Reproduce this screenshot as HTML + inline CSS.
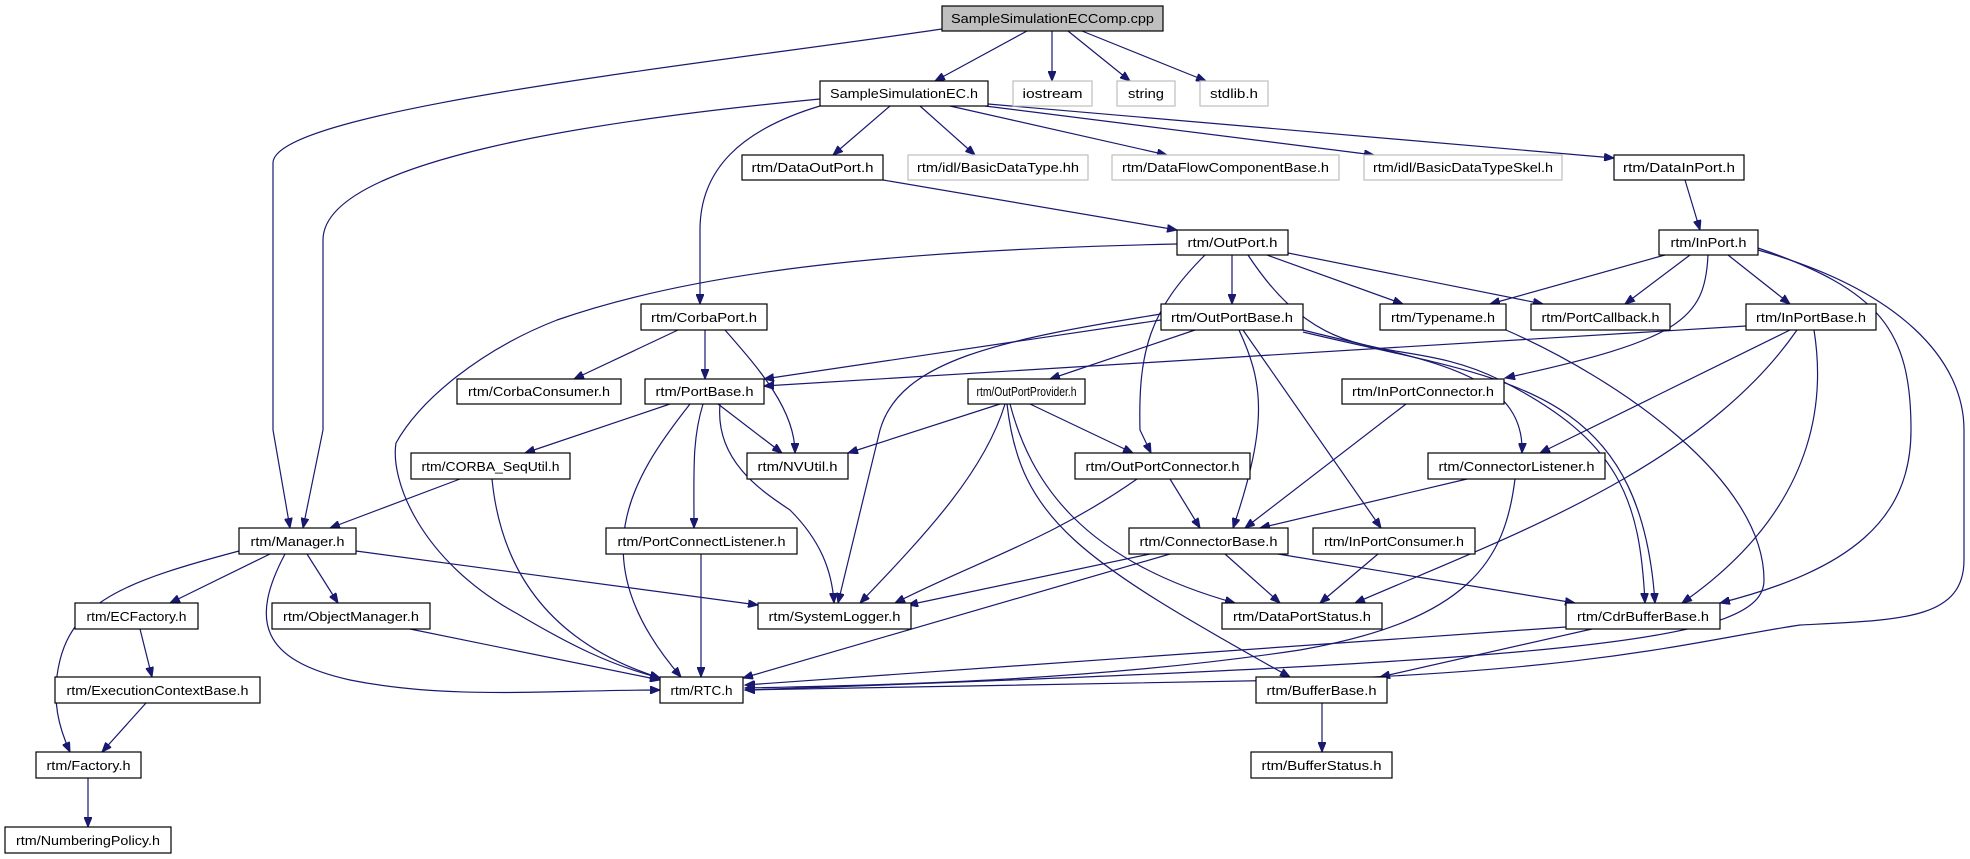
<!DOCTYPE html>
<html><head><meta charset="utf-8"><style>
html,body{margin:0;padding:0;background:#fff;}
svg{display:block;}
text{font-family:"Liberation Sans","DejaVu Sans",sans-serif;font-size:13px;fill:#000;}
.e{fill:none;stroke:#191970;stroke-width:1.2;marker-end:url(#a);}
.n{fill:#fff;stroke:#000;stroke-width:1.2;}
.g{fill:#fff;stroke:#bfbfbf;stroke-width:1.2;}
</style></head><body>
<svg width="1970" height="859" viewBox="0 0 1970 859" xmlns="http://www.w3.org/2000/svg">
<defs><marker id="a" markerWidth="11" markerHeight="8" refX="10" refY="4" orient="auto" markerUnits="userSpaceOnUse"><path d="M0,0 L10,4 L0,8 Z" fill="#191970" stroke="#191970"/></marker></defs>
<g>
<path class="e" d="M942,29 C700,65 273,110 273,163 L273,430 L290,528"/>
<path class="e" d="M1027,31 L935,81"/>
<path class="e" d="M1052,31 L1052,81"/>
<path class="e" d="M1068,31 L1130,81"/>
<path class="e" d="M1082,31 L1206,81"/>
<path class="e" d="M820,99 C600,120 323,160 323,240 L323,430 L303,528"/>
<path class="e" d="M820,106 C740,130 700,170 700,230 L700,304"/>
<path class="e" d="M890,106 L833,155"/>
<path class="e" d="M920,106 L975,155"/>
<path class="e" d="M950,106 L1167,155"/>
<path class="e" d="M985,106 L1374,155"/>
<path class="e" d="M988,104 L1614,158"/>
<path class="e" d="M883,180 L1177,230"/>
<path class="e" d="M1685,180 L1700,230"/>
<path class="e" d="M1177,244 C900,250 700,270 557,320 C480,350 420,400 396,443 C390,480 420,560 516,613 C570,645 610,665 660,678"/>
<path class="e" d="M1205,255 C1150,310 1138,350 1140,430 L1151,453"/>
<path class="e" d="M1232,255 L1232,304"/>
<path class="e" d="M1267,255 L1403,304"/>
<path class="e" d="M1288,253 L1543,304"/>
<path class="e" d="M1248,255 C1330,380 1400,330 1500,380 C1620,440 1640,500 1645,603"/>
<path class="e" d="M1665,255 L1490,304"/>
<path class="e" d="M1690,255 L1625,304"/>
<path class="e" d="M1728,255 L1790,304"/>
<path class="e" d="M1708,255 C1705,320 1680,340 1505,378"/>
<path class="e" d="M1758,248 C1880,290 1911,330 1911,430 C1911,520 1850,570 1720,603"/>
<path class="e" d="M1758,250 C1900,290 1964,360 1964,430 L1964,560 C1964,620 1900,620 1800,625 C1700,640 1600,670 1300,680 L745,690"/>
<path class="e" d="M1161,320 L764,379"/>
<path class="e" d="M1746,326 L764,386"/>
<path class="e" d="M1195,330 L1050,379"/>
<path class="e" d="M1161,314 C1000,340 900,360 880,430 L838,603"/>
<path class="e" d="M1239,330 C1262,380 1270,420 1233,528"/>
<path class="e" d="M1243,330 L1381,528"/>
<path class="e" d="M1303,330 C1420,360 1525,370 1522,453"/>
<path class="e" d="M1303,332 C1500,380 1640,380 1655,603"/>
<path class="e" d="M1506,330 C1620,380 1764,480 1764,580 C1764,640 1600,660 745,690"/>
<path class="e" d="M1790,330 L1540,453"/>
<path class="e" d="M1797,330 C1700,470 1500,540 1355,603"/>
<path class="e" d="M1814,330 C1822,380 1830,500 1682,603"/>
<path class="e" d="M678,330 L574,379"/>
<path class="e" d="M705,330 L705,379"/>
<path class="e" d="M725,330 C760,370 795,410 795,453"/>
<path class="e" d="M670,404 L525,453"/>
<path class="e" d="M718,404 L782,453"/>
<path class="e" d="M690,404 C630,480 580,560 681,677"/>
<path class="e" d="M703,404 C692,440 694,470 694,528"/>
<path class="e" d="M720,404 C715,460 760,490 790,510 C820,540 832,570 834,603"/>
<path class="e" d="M1000,404 L848,453"/>
<path class="e" d="M1030,404 L1133,453"/>
<path class="e" d="M1005,404 C985,470 930,530 860,603"/>
<path class="e" d="M1010,404 C1030,480 1080,560 1235,603"/>
<path class="e" d="M1007,404 C1020,520 1080,560 1290,677"/>
<path class="e" d="M1406,404 L1245,528"/>
<path class="e" d="M460,479 L330,528"/>
<path class="e" d="M492,479 C500,560 540,640 660,678"/>
<path class="e" d="M270,554 L170,603"/>
<path class="e" d="M307,554 L338,603"/>
<path class="e" d="M356,551 L758,605"/>
<path class="e" d="M285,554 C250,620 260,660 350,680 C450,700 550,690 660,690"/>
<path class="e" d="M239,551 C130,580 75,600 60,660 C50,700 60,730 70,752"/>
<path class="e" d="M410,629 L660,680"/>
<path class="e" d="M140,629 L152,677"/>
<path class="e" d="M146,703 L102,752"/>
<path class="e" d="M88,778 L88,827"/>
<path class="e" d="M701,554 L701,677"/>
<path class="e" d="M1170,479 L1200,528"/>
<path class="e" d="M1137,479 C1050,540 980,560 895,603"/>
<path class="e" d="M1467,479 L1260,528"/>
<path class="e" d="M1515,479 C1505,560 1470,620 1300,650 C1100,680 900,685 745,688"/>
<path class="e" d="M1150,554 L908,605"/>
<path class="e" d="M1170,554 L743,678"/>
<path class="e" d="M1225,554 L1280,603"/>
<path class="e" d="M1278,554 L1575,603"/>
<path class="e" d="M1378,554 L1320,603"/>
<path class="e" d="M1566,627 L745,685"/>
<path class="e" d="M1592,629 L1380,677"/>
<path class="e" d="M1322,703 L1322,752"/>
</g>
<g>
<rect x="942" y="6" width="221" height="25" fill="#bfbfbf" stroke="#000" stroke-width="1.2"/><text x="1052.5" y="23" text-anchor="middle" textLength="203" lengthAdjust="spacingAndGlyphs">SampleSimulationECComp.cpp</text>
<rect class="n" x="820" y="81" width="168" height="25"/><text x="904" y="98" text-anchor="middle" textLength="148" lengthAdjust="spacingAndGlyphs">SampleSimulationEC.h</text>
<rect class="g" x="1013" y="81" width="79" height="25"/><text x="1052.5" y="98" text-anchor="middle" textLength="60" lengthAdjust="spacingAndGlyphs">iostream</text>
<rect class="g" x="1117" y="81" width="58" height="25"/><text x="1146" y="98" text-anchor="middle" textLength="36" lengthAdjust="spacingAndGlyphs">string</text>
<rect class="g" x="1200" y="81" width="68" height="25"/><text x="1234" y="98" text-anchor="middle" textLength="48" lengthAdjust="spacingAndGlyphs">stdlib.h</text>
<rect class="n" x="742" y="155" width="141" height="25"/><text x="812.5" y="172" text-anchor="middle" textLength="122" lengthAdjust="spacingAndGlyphs">rtm/DataOutPort.h</text>
<rect class="g" x="908" y="155" width="180" height="25"/><text x="998" y="172" text-anchor="middle" textLength="162" lengthAdjust="spacingAndGlyphs">rtm/idl/BasicDataType.hh</text>
<rect class="g" x="1112" y="155" width="227" height="25"/><text x="1225.5" y="172" text-anchor="middle" textLength="207" lengthAdjust="spacingAndGlyphs">rtm/DataFlowComponentBase.h</text>
<rect class="g" x="1364" y="155" width="198" height="25"/><text x="1463" y="172" text-anchor="middle" textLength="180" lengthAdjust="spacingAndGlyphs">rtm/idl/BasicDataTypeSkel.h</text>
<rect class="n" x="1614" y="155" width="130" height="25"/><text x="1679" y="172" text-anchor="middle" textLength="112" lengthAdjust="spacingAndGlyphs">rtm/DataInPort.h</text>
<rect class="n" x="1177" y="230" width="111" height="25"/><text x="1232.5" y="247" text-anchor="middle" textLength="90" lengthAdjust="spacingAndGlyphs">rtm/OutPort.h</text>
<rect class="n" x="1659" y="230" width="99" height="25"/><text x="1708.5" y="247" text-anchor="middle" textLength="76" lengthAdjust="spacingAndGlyphs">rtm/InPort.h</text>
<rect class="n" x="641" y="304" width="126" height="26"/><text x="704" y="322" text-anchor="middle" textLength="106" lengthAdjust="spacingAndGlyphs">rtm/CorbaPort.h</text>
<rect class="n" x="1161" y="304" width="142" height="26"/><text x="1232" y="322" text-anchor="middle" textLength="122" lengthAdjust="spacingAndGlyphs">rtm/OutPortBase.h</text>
<rect class="n" x="1380" y="304" width="126" height="26"/><text x="1443" y="322" text-anchor="middle" textLength="104" lengthAdjust="spacingAndGlyphs">rtm/Typename.h</text>
<rect class="n" x="1531" y="304" width="139" height="26"/><text x="1600.5" y="322" text-anchor="middle" textLength="118" lengthAdjust="spacingAndGlyphs">rtm/PortCallback.h</text>
<rect class="n" x="1746" y="304" width="130" height="26"/><text x="1811" y="322" text-anchor="middle" textLength="110" lengthAdjust="spacingAndGlyphs">rtm/InPortBase.h</text>
<rect class="n" x="457" y="379" width="164" height="25"/><text x="539" y="396" text-anchor="middle" textLength="142" lengthAdjust="spacingAndGlyphs">rtm/CorbaConsumer.h</text>
<rect class="n" x="645" y="379" width="119" height="25"/><text x="704.5" y="396" text-anchor="middle" textLength="98" lengthAdjust="spacingAndGlyphs">rtm/PortBase.h</text>
<rect class="n" x="968" y="379" width="117" height="25"/><text x="1026.5" y="396" text-anchor="middle" textLength="100" lengthAdjust="spacingAndGlyphs">rtm/OutPortProvider.h</text>
<rect class="n" x="1342" y="379" width="162" height="25"/><text x="1423" y="396" text-anchor="middle" textLength="142" lengthAdjust="spacingAndGlyphs">rtm/InPortConnector.h</text>
<rect class="n" x="411" y="453" width="159" height="26"/><text x="490.5" y="471" text-anchor="middle" textLength="138" lengthAdjust="spacingAndGlyphs">rtm/CORBA_SeqUtil.h</text>
<rect class="n" x="747" y="453" width="101" height="26"/><text x="797.5" y="471" text-anchor="middle" textLength="80" lengthAdjust="spacingAndGlyphs">rtm/NVUtil.h</text>
<rect class="n" x="1075" y="453" width="175" height="26"/><text x="1162.5" y="471" text-anchor="middle" textLength="154" lengthAdjust="spacingAndGlyphs">rtm/OutPortConnector.h</text>
<rect class="n" x="1428" y="453" width="177" height="26"/><text x="1516.5" y="471" text-anchor="middle" textLength="156" lengthAdjust="spacingAndGlyphs">rtm/ConnectorListener.h</text>
<rect class="n" x="239" y="528" width="117" height="26"/><text x="297.5" y="546" text-anchor="middle" textLength="94" lengthAdjust="spacingAndGlyphs">rtm/Manager.h</text>
<rect class="n" x="606" y="528" width="191" height="26"/><text x="701.5" y="546" text-anchor="middle" textLength="168" lengthAdjust="spacingAndGlyphs">rtm/PortConnectListener.h</text>
<rect class="n" x="1129" y="528" width="159" height="26"/><text x="1208.5" y="546" text-anchor="middle" textLength="138" lengthAdjust="spacingAndGlyphs">rtm/ConnectorBase.h</text>
<rect class="n" x="1313" y="528" width="162" height="26"/><text x="1394" y="546" text-anchor="middle" textLength="140" lengthAdjust="spacingAndGlyphs">rtm/InPortConsumer.h</text>
<rect class="n" x="75" y="603" width="123" height="26"/><text x="136.5" y="621" text-anchor="middle" textLength="100" lengthAdjust="spacingAndGlyphs">rtm/ECFactory.h</text>
<rect class="n" x="272" y="603" width="158" height="26"/><text x="351" y="621" text-anchor="middle" textLength="136" lengthAdjust="spacingAndGlyphs">rtm/ObjectManager.h</text>
<rect class="n" x="758" y="603" width="153" height="26"/><text x="834.5" y="621" text-anchor="middle" textLength="132" lengthAdjust="spacingAndGlyphs">rtm/SystemLogger.h</text>
<rect class="n" x="1222" y="603" width="160" height="26"/><text x="1302" y="621" text-anchor="middle" textLength="138" lengthAdjust="spacingAndGlyphs">rtm/DataPortStatus.h</text>
<rect class="n" x="1566" y="603" width="154" height="26"/><text x="1643" y="621" text-anchor="middle" textLength="132" lengthAdjust="spacingAndGlyphs">rtm/CdrBufferBase.h</text>
<rect class="n" x="55" y="677" width="205" height="26"/><text x="157.5" y="695" text-anchor="middle" textLength="182" lengthAdjust="spacingAndGlyphs">rtm/ExecutionContextBase.h</text>
<rect class="n" x="660" y="677" width="83" height="26"/><text x="701.5" y="695" text-anchor="middle" textLength="62" lengthAdjust="spacingAndGlyphs">rtm/RTC.h</text>
<rect class="n" x="1256" y="677" width="131" height="26"/><text x="1321.5" y="695" text-anchor="middle" textLength="110" lengthAdjust="spacingAndGlyphs">rtm/BufferBase.h</text>
<rect class="n" x="36" y="752" width="105" height="26"/><text x="88.5" y="770" text-anchor="middle" textLength="84" lengthAdjust="spacingAndGlyphs">rtm/Factory.h</text>
<rect class="n" x="1251" y="752" width="141" height="26"/><text x="1321.5" y="770" text-anchor="middle" textLength="120" lengthAdjust="spacingAndGlyphs">rtm/BufferStatus.h</text>
<rect class="n" x="5" y="827" width="166" height="26"/><text x="88" y="845" text-anchor="middle" textLength="144" lengthAdjust="spacingAndGlyphs">rtm/NumberingPolicy.h</text>
</g>
</svg>
</body></html>
